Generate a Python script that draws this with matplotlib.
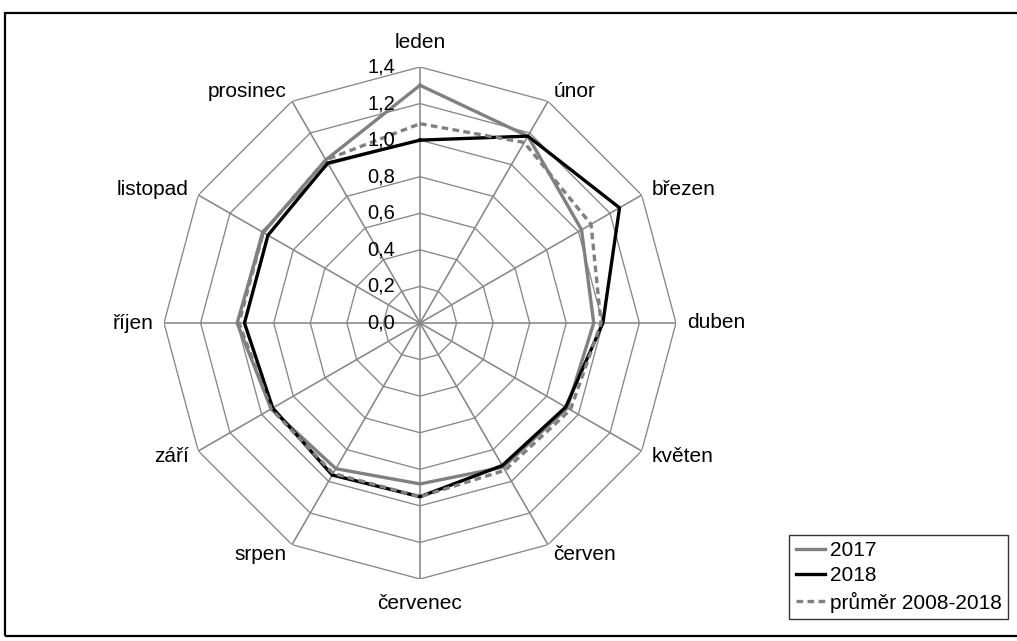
import numpy as np
import matplotlib
matplotlib.use("Agg")
import matplotlib.pyplot as plt
from matplotlib.patches import Rectangle

plt.rcParams['font.family'] = ['Liberation Sans', 'DejaVu Sans']

#### data
months = ['leden', 'únor', 'březen', 'duben', 'květen', 'červen',
          'červenec', 'srpen', 'září', 'říjen', 'listopad', 'prosinec']
vals_2017 = [1.30, 1.18, 1.02, 0.95, 0.93, 0.91, 0.88, 0.92, 0.94, 1.00, 0.99, 1.03]
vals_2018 = [1.00, 1.18, 1.26, 1.00, 0.92, 0.90, 0.95, 0.96, 0.93, 0.96, 0.96, 1.01]
vals_avg = [1.09, 1.14, 1.08, 0.99, 0.95, 0.93, 0.95, 0.95, 0.94, 0.99, 0.99, 1.03]
rticks = [0.0, 0.2, 0.4, 0.6, 0.8, 1.0, 1.2, 1.4]
rtick_labels = ['0,0', '0,2', '0,4', '0,6', '0,8', '1,0', '1,2', '1,4']
series_names = ['2017', '2018', 'průměr 2008-2018']

W, H = 1017, 641
fig = plt.figure(figsize=(W / 100, H / 100), dpi=100)

#### polar axes placed so the centre sits at (420, 323) px, radius 256 px
cx, cy, rad = 420, 323, 256
ax = fig.add_axes([(cx - rad) / W, (H - cy - rad) / H, 2 * rad / W, 2 * rad / H],
                  projection='polar')
ax.set_theta_zero_location('N')
ax.set_theta_direction(-1)
ax.set_ylim(0, 1.4)
ax.grid(False)
ax.spines['polar'].set_visible(False)
ax.set_xticks([])
ax.set_yticks([])
ax.patch.set_alpha(0)

theta = np.linspace(0, 2 * np.pi, len(months), endpoint=False)
closed = np.append(theta, theta[0])

grid_col = '#878787'
### polygon grid
for r in rticks[1:]:
    ax.plot(closed, [r] * len(closed), color=grid_col, lw=0.95, zorder=1)
### spokes
for t in theta:
    ax.plot([t, t], [0, 1.4], color=grid_col, lw=1.15, zorder=1)

def close(v):
    return list(v) + [v[0]]

l1, = ax.plot(closed, close(vals_2017), color='#808080', lw=2.4, zorder=3, label=series_names[0])
l2, = ax.plot(closed, close(vals_2018), color='black', lw=2.4, zorder=4, label=series_names[1])
l3, = ax.plot(closed, close(vals_avg), color='#808080', lw=2.4, zorder=5,
              linestyle=(0, (2.0, 1.3)), label=series_names[2])

### radial value labels left of the top spoke
for r, lab in zip(rticks, rtick_labels):
    ax.annotate(lab, xy=(0, r), xytext=(-18, 0), textcoords='offset points',
                ha='right', va='center', fontsize=14.5, zorder=6)

### month labels outside the polygon
for t, m in zip(theta, months):
    s, c = np.sin(t), np.cos(t)
    if abs(s) < 0.1:
        ha = 'center'
        va = 'bottom' if c > 0 else 'top'
        d = 11
    else:
        ha = 'left' if s > 0 else 'right'
        va = 'center'
        d = 8
    ax.annotate(m, xy=(t, 1.4), xytext=(d * s, d * c), textcoords='offset points',
                ha=ha, va=va, fontsize=15, annotation_clip=False)

#### legend box bottom right
leg = fig.legend(handles=[l1, l2, l3], loc='lower right',
                 bbox_to_anchor=(1008 / W, 1 - 619 / H), fontsize=15,
                 frameon=True, fancybox=False, borderaxespad=0,
                 handlelength=1.4, handletextpad=0.25, labelspacing=0.3,
                 borderpad=0.3)
leg.get_frame().set_edgecolor('black')
leg.get_frame().set_linewidth(1.0)

#### outer frame
fig.patches.append(Rectangle((5 / W, 1 - 636 / H), (1030 - 5) / W, (636 - 13) / H,
                             transform=fig.transFigure, fill=False,
                             edgecolor='black', lw=1.6))

fig.savefig('out.png', dpi=100)
